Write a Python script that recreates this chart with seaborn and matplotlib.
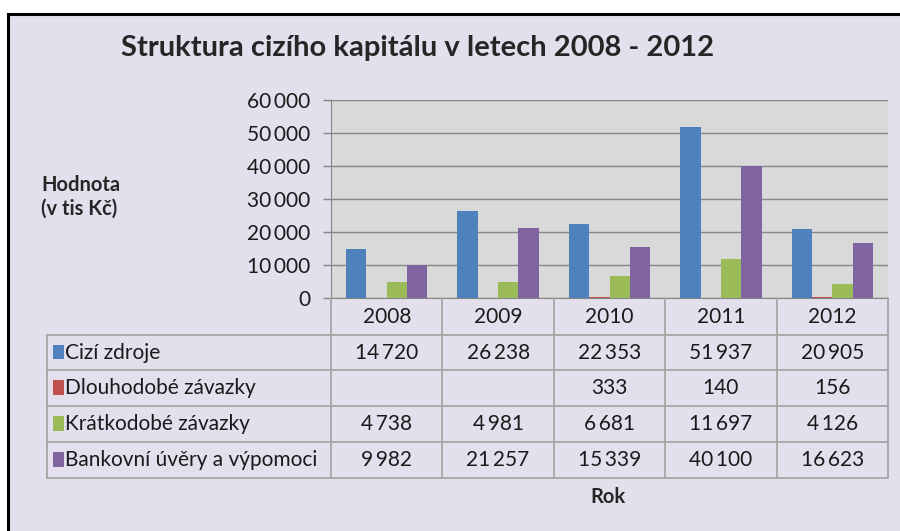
import numpy as np
import pandas as pd
import seaborn as sns
import matplotlib
matplotlib.use("Agg")
import matplotlib.pyplot as plt
from matplotlib.patches import Rectangle
from matplotlib.lines import Line2D

years = ["2008", "2009", "2010", "2011", "2012"]
series = ["Cizí zdroje", "Dlouhodobé závazky", "Krátkodobé závazky", "Bankovní úvěry a výpomoci"]
cizi_zdroje = [14720, 26238, 22353, 51937, 20905]
dlouhodobe = [np.nan, np.nan, 333, 140, 156]
kratkodobe = [4738, 4981, 6681, 11697, 4126]
bankovni = [9982, 21257, 15339, 40100, 16623]
colors = ["#4F81BD", "#C0504D", "#9BBB59", "#8064A2"]
y_ticks = [0, 10000, 20000, 30000, 40000, 50000, 60000]

FONT = ["Lato", "DejaVu Sans"]
BG = "#E4DFEC"
GRID = "#868686"
LINE = "#A6A6A6"


def fmt(v):
    if v != v:
        return ""
    return "{:,}".format(int(v)).replace(",", "\u2009")


def main():
    sns.set_style("white")
    plt.rcParams["font.family"] = FONT

    values = [cizi_zdroje, dlouhodobe, kratkodobe, bankovni]
    rows = []
    for name, vals in zip(series, values):
        for yr, v in zip(years, vals):
            rows.append({"Rok": yr, "Řada": name, "Hodnota": v})
    df = pd.DataFrame(rows)

    fig = plt.figure(figsize=(9, 5.31), dpi=100)
    fig.patch.set_facecolor("white")
    fig.patches.append(Rectangle((8 / 900, -0.1), 1.2, 1 - 14 / 531 + 0.1,
                                 transform=fig.transFigure, facecolor=BG,
                                 edgecolor="black", linewidth=2.2, zorder=-5))

    ax = fig.add_axes([331 / 900, 1 - 298 / 531, 557 / 900, 198 / 531])
    ax.set_facecolor("#D9D9D9")
    sns.barplot(data=df, x="Rok", y="Hodnota", hue="Řada", order=years,
                hue_order=series, palette=colors, width=0.73, saturation=1,
                ax=ax, legend=False, zorder=3, linewidth=0)

    ax.set_xlim(-0.5, 4.5)
    ax.set_ylim(0, 60000)
    ax.set_yticks(y_ticks)
    ax.set_yticklabels([fmt(t) for t in y_ticks], fontsize=15, color="#1a1a1a")
    ax.set_xticks([])
    ax.set_xlabel("")
    ax.set_ylabel("")
    ax.tick_params(axis="y", length=6, width=1, color=GRID, pad=9, left=True)
    ax.yaxis.grid(True, color=GRID, linewidth=1, zorder=1)
    ax.set_axisbelow(True)
    for side in ["top", "right"]:
        ax.spines[side].set_visible(False)
    ax.spines["left"].set_color(GRID)
    ax.spines["bottom"].set_color(GRID)

    # data table below the axis
    row_h = [0.187, 0.177, 0.182, 0.182, 0.182]
    bounds = [0.0]
    for h in row_h:
        bounds.append(bounds[-1] - h)
    left = -0.5 - 284 / 111.4
    trans = ax.get_xaxis_transform()
    kw = dict(transform=trans, clip_on=False, color=LINE, linewidth=1.3, zorder=5)

    # horizontal lines
    for b in bounds[1:]:
        ax.add_line(Line2D([left, 4.5], [b, b], **kw))
    # vertical lines
    ax.add_line(Line2D([left, left], [bounds[1], bounds[-1]], **kw))
    for i in range(6):
        ax.add_line(Line2D([i - 0.5, i - 0.5], [0, bounds[-1]], **kw))

    def mid(r):
        return (bounds[r] + bounds[r + 1]) / 2

    for i, yr in enumerate(years):
        ax.text(i, mid(0), yr, transform=trans, ha="center", va="center",
                fontsize=15, color="#1a1a1a", clip_on=False)

    for r, (name, vals, c) in enumerate(zip(series, values, colors), start=1):
        ax.add_patch(Rectangle((left + 0.05, mid(r) - 0.035), 0.1, 0.075,
                               transform=trans, facecolor=c, edgecolor="none",
                               clip_on=False, zorder=6))
        ax.text(left + 0.16, mid(r), name, transform=trans, ha="left",
                va="center", fontsize=15, color="#1a1a1a", clip_on=False)
        for i, v in enumerate(vals):
            ax.text(i, mid(r), fmt(v), transform=trans, ha="center",
                    va="center", fontsize=15, color="#1a1a1a", clip_on=False)

    fig.text(418 / 900, 1 - 48 / 531, "Struktura cizího kapitálu v letech 2008 - 2012",
             ha="center", va="center", fontsize=21, fontweight="bold")
    fig.text(41 / 900, 1 - 197 / 531, "Hodnota\n(v tis Kč)", ha="left",
             va="center", fontsize=14.5, fontweight="bold", linespacing=1.25)
    fig.text(608 / 900, 1 - 497 / 531, "Rok", ha="center", va="center",
             fontsize=14.5, fontweight="bold")

    fig.savefig("out.png", dpi=100, facecolor=fig.get_facecolor())


if __name__ == "__main__":
    main()
